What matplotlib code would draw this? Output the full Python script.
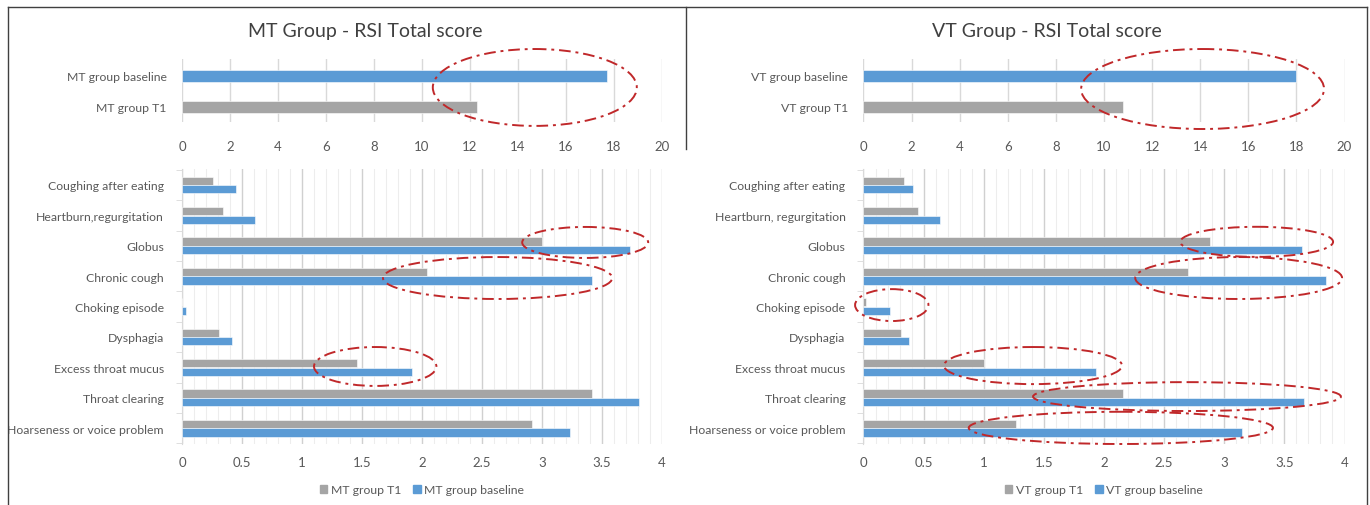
import matplotlib
matplotlib.use("Agg")
import matplotlib.pyplot as plt
from matplotlib.patches import Ellipse
from matplotlib.lines import Line2D
import numpy as np

plt.rcParams["font.family"] = ["Lato", "DejaVu Sans"]

# data
symptoms = ["Coughing after eating", "Heartburn,regurgitation", "Globus", "Chronic cough",
            "Choking episode", "Dysphagia", "Excess throat mucus", "Throat clearing",
            "Hoarseness or voice problem"]
symptoms_vt = ["Coughing after eating", "Heartburn, regurgitation", "Globus", "Chronic cough",
               "Choking episode", "Dysphagia", "Excess throat mucus", "Throat clearing",
               "Hoarseness or voice problem"]

mt_t1 = [0.26, 0.34, 3.00, 2.04, 0.0, 0.31, 1.46, 3.42, 2.92]
mt_base = [0.45, 0.61, 3.73, 3.42, 0.03, 0.42, 1.92, 3.81, 3.23]
vt_t1 = [0.34, 0.45, 2.88, 2.70, 0.02, 0.31, 1.00, 2.16, 1.27]
vt_base = [0.41, 0.64, 3.65, 3.85, 0.22, 0.38, 1.93, 3.66, 3.15]

total_labels_mt = ["MT group baseline", "MT group T1"]
total_labels_vt = ["VT group baseline", "VT group T1"]
mt_total = [17.7, 12.3]
vt_total = [18.0, 10.8]

GRAY = "#A5A5A5"
BLUE = "#5B9BD5"
TXT = "#595959"
RED = "#C0282A"

# highlight ellipses (x centre, y centre, width, height) in data units
mt_top_circle = (14.7, 0.37, 8.5, 2.48)
vt_top_circle = (14.1, 0.42, 10.1, 2.58)
mt_circles = [(3.36, 1.89, 1.05, 1.02), (2.63, 3.06, 1.91, 1.38), (1.61, 5.97, 1.02, 1.28)]
vt_circles = [(3.27, 1.87, 1.27, 0.99), (3.12, 3.06, 1.72, 1.38), (0.235, 3.95, 0.61, 1.05),
              (1.41, 5.94, 1.48, 1.22), (2.69, 6.96, 2.56, 0.95), (2.14, 7.99, 2.53, 1.06)]

W, H = 1370, 506
fig = plt.figure(figsize=(W / 100, H / 100), dpi=100)


def px_axes(x0, y0, x1, y1):
    return fig.add_axes([x0 / W, 1 - y1 / H, (x1 - x0) / W, (y1 - y0) / H])


def ellipse(ax, spec):
    cx, cy, w, h = spec
    e = Ellipse((cx, cy), w, h, fill=False, edgecolor=RED, lw=1.4,
                linestyle=(0, (6, 2.5, 1.5, 2.5)), clip_on=False, zorder=5)
    ax.add_patch(e)


def top_chart(ax, labels, values, circle):
    y = np.arange(len(labels))
    ax.barh(y, values, height=0.39, color=[BLUE, GRAY], edgecolor="white", lw=0.4, zorder=3)
    ax.set_xlim(0, 20)
    ax.set_xticks(range(0, 21, 2))
    ax.set_ylim(1.484, -0.548)
    ax.set_yticks(y)
    ax.set_yticklabels(labels)
    ax.grid(axis="x", color="#D9D9D9", lw=1, zorder=0)
    for s in ax.spines.values():
        s.set_visible(False)
    ax.tick_params(length=0, colors=TXT, labelsize=8.8)
    ax.tick_params(axis="y", pad=11)
    ax.tick_params(axis="x", pad=13, labelsize=9.5)
    ellipse(ax, circle)


def bottom_chart(ax, labels, t1, base, circles):
    y = np.arange(len(labels))
    ax.barh(y - 0.14, t1, height=0.27, color=GRAY, edgecolor="white", lw=0.4, zorder=3)
    ax.barh(y + 0.14, base, height=0.27, color=BLUE, edgecolor="white", lw=0.4, zorder=3)
    ax.set_xlim(0, 4)
    ax.set_xticks(np.arange(0, 4.01, 0.5))
    ax.set_xticklabels(["0", "0.5", "1", "1.5", "2", "2.5", "3", "3.5", "4"])
    ax.set_xticks(np.arange(0, 4.01, 0.1), minor=True)
    ax.set_ylim(8.52, -0.526)
    ax.set_yticks(y)
    ax.set_yticklabels(labels)
    ax.set_yticks(np.arange(-0.5, 9, 1), minor=True)
    ax.grid(axis="x", which="major", color="#D0D0D0", lw=1, zorder=0)
    ax.grid(axis="x", which="minor", color="#EDEDED", lw=0.8, zorder=0)
    for s in ax.spines.values():
        s.set_visible(False)
    ax.spines["left"].set_visible(True)
    ax.spines["left"].set_color("#D9D9D9")
    ax.tick_params(axis="x", which="both", length=0, colors=TXT, labelsize=9.5, pad=9)
    ax.tick_params(axis="y", which="major", length=0, colors=TXT, labelsize=8.8, pad=13)
    ax.tick_params(axis="y", which="minor", length=4, color="#D9D9D9")
    for c in circles:
        ellipse(ax, c)


ax1 = px_axes(182, 60, 662, 123)
top_chart(ax1, total_labels_mt, mt_total, mt_top_circle)
ax2 = px_axes(182, 170, 662, 445)
bottom_chart(ax2, symptoms, mt_t1, mt_base, mt_circles)

ax3 = px_axes(863.5, 60, 1344.5, 123)
top_chart(ax3, total_labels_vt, vt_total, vt_top_circle)
ax4 = px_axes(863.5, 170, 1344.5, 445)
bottom_chart(ax4, symptoms_vt, vt_t1, vt_base, vt_circles)

fig.text(365 / W, 1 - 32 / H, "MT Group - RSI Total score", ha="center", va="center",
         fontsize=14, color="#404040")
fig.text(1047 / W, 1 - 32 / H, "VT Group - RSI Total score", ha="center", va="center",
         fontsize=14, color="#404040")

for cx, grp in [(422, "MT"), (1104, "VT")]:
    handles = [plt.Rectangle((0, 0), 1, 1, color=GRAY), plt.Rectangle((0, 0), 1, 1, color=BLUE)]
    fig.legend(handles, [grp + " group T1", grp + " group baseline"], loc="center",
               bbox_to_anchor=(cx / W, 1 - 491 / H), ncol=2, frameon=False,
               fontsize=8.8, handlelength=0.6, handleheight=0.6, handletextpad=0.3,
               columnspacing=1.0, labelcolor=TXT)

# outer frame
frame = dict(color="#404040", lw=1.0, transform=fig.transFigure)
fig.add_artist(Line2D([8 / W, 1367 / W], [1 - 8 / H, 1 - 8 / H], **frame))
fig.add_artist(Line2D([8 / W, 8 / W], [0, 1 - 8 / H], **frame))
fig.add_artist(Line2D([1367 / W, 1367 / W], [0, 1 - 8 / H], **frame))
fig.add_artist(Line2D([686 / W, 686 / W], [1 - 150 / H, 1 - 8 / H], **frame))

fig.savefig("out.png", dpi=100, facecolor="white")
